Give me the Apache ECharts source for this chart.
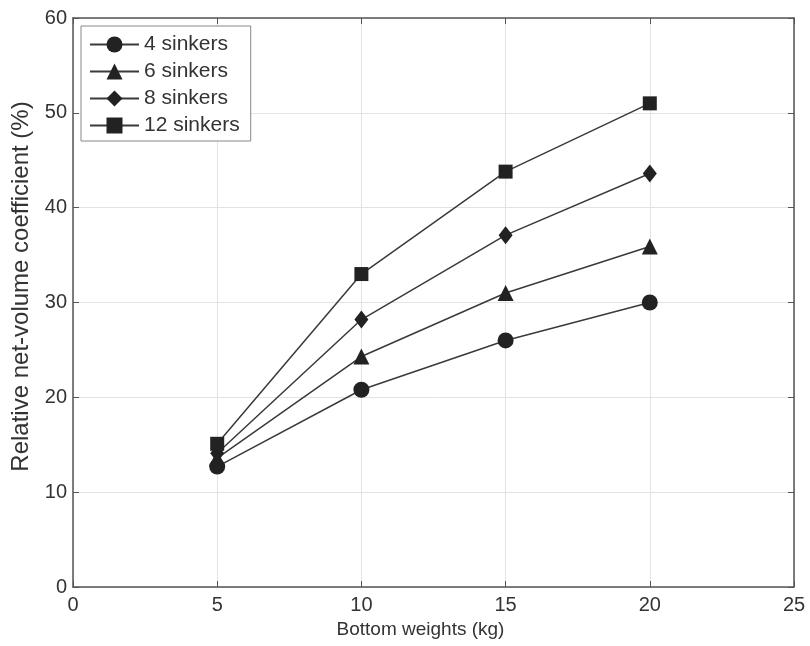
<!DOCTYPE html>
<html>
<head>
<meta charset="utf-8">
<script src="https://cdn.jsdelivr.net/npm/echarts@6/dist/echarts.min.js"></script>
<style>
  html, body { margin: 0; padding: 0; background: #fff; }
  #chart { width: 810px; height: 646px; }
</style>
</head>
<body>
<div id="chart"></div>
<script>
// bottom weights (kg)
var weights = [5, 10, 15, 20];
// relative net-volume coefficient (%) per sinker count
var sinkers4 = [12.7, 20.8, 26.0, 30.0];
var sinkers6 = [13.6, 24.3, 31.0, 35.9];
var sinkers8 = [14.1, 28.2, 37.1, 43.6];
var sinkers12 = [15.1, 33.0, 43.8, 51.0];
var seriesNames = ["4 sinkers", "6 sinkers", "8 sinkers", "12 sinkers"];

var chart = echarts.init(document.getElementById("chart"));

var font = "Liberation Sans, Arial, sans-serif";
var ink = "#333";
var markColor = "#222";
var axisColor = "#555";

function pairs(vals) {
	return weights.map(function(w, i) { return [w, vals[i]]; });
}

function lineSeries(name, vals, symbol, size) {
	return {
		name: name,
		type: "line",
		data: pairs(vals),
		symbol: symbol,
		symbolSize: size,
		showAllSymbol: true,
		lineStyle: { color: "#3a3a3a", width: 1.5 },
		itemStyle: { color: markColor, borderWidth: 0 },
		emphasis: { disabled: true },
		animation: false
	};
}

// 菱形标记
var diamond = "path://M5,0 L10,6 L5,12 L0,6 Z";

// 坐标轴公共样式
var tick = { show: true, inside: true, length: 6, lineStyle: { color: axisColor } };
var line = { show: true, onZero: false, lineStyle: { color: axisColor, width: 1.5 } };

var option = {
	backgroundColor: "#fff",
	textStyle: { fontFamily: font },
	grid: { left: 73, right: 16, top: 18, bottom: 59 },
	legend: {
		orient: "vertical",
		left: 81,
		top: 26,
		padding: [8, 11, 5, 8],
		itemGap: 6,
		itemWidth: 49,
		itemHeight: 20,
		backgroundColor: "#fff",
		borderColor: "#888",
		borderWidth: 1,
		textStyle: { fontSize: 21, color: ink, fontFamily: font },
		data: seriesNames
	},
	xAxis: [{
		type: "value",
		min: 0, max: 25, interval: 5,
		name: "Bottom weights (kg)",
		nameLocation: "middle",
		nameGap: 31,
		nameTextStyle: { fontSize: 19, color: ink, padding: [0, 26, 0, 0] },
		axisLine: line,
		axisTick: tick,
		axisLabel: { fontSize: 20, color: ink, margin: 8 },
		splitLine: { show: true, lineStyle: { color: "#e3e3e3", width: 1 } }
	}, {
		type: "value",
		position: "top",
		min: 0, max: 25, interval: 5,
		axisLine: line,
		axisTick: tick,
		axisLabel: { show: false },
		splitLine: { show: false }
	}],
	yAxis: [{
		type: "value",
		min: 0, max: 60, interval: 10,
		name: "Relative net-volume coefficient (%)",
		nameLocation: "middle",
		nameGap: 38,
		nameTextStyle: { fontSize: 24, color: ink, padding: [0, 0, 0, 32] },
		axisLine: line,
		axisTick: tick,
		axisLabel: { fontSize: 20, color: ink, margin: 6 },
		splitLine: { show: true, lineStyle: { color: "#e3e3e3", width: 1 } }
	}, {
		type: "value",
		position: "right",
		min: 0, max: 60, interval: 10,
		axisLine: line,
		axisTick: tick,
		axisLabel: { show: false },
		splitLine: { show: false }
	}],
	series: [
		lineSeries(seriesNames[0], sinkers4, "circle", 16),
		lineSeries(seriesNames[1], sinkers6, "triangle", 16),
		lineSeries(seriesNames[2], sinkers8, diamond, [14, 18]),
		lineSeries(seriesNames[3], sinkers12, "rect", 14)
	]
};

chart.setOption(option);
</script>
</body>
</html>
